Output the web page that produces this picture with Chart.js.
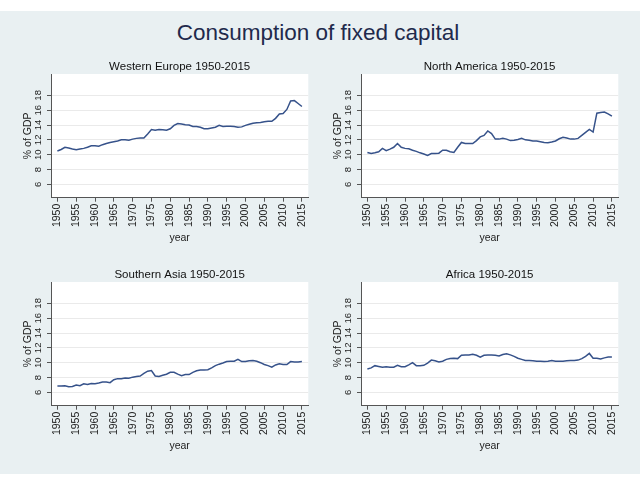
<!DOCTYPE html>
<html>
<head>
<meta charset="utf-8">
<script src="https://cdn.jsdelivr.net/npm/chart.js@4.4.1/dist/chart.umd.min.js"></script>
<style>
  html, body { margin: 0; padding: 0; background: #ffffff; }
  #page { position: relative; width: 640px; height: 477px; overflow: hidden; background: #ffffff; }
  #bg { position: absolute; left: 0; top: 11px; width: 640px; height: 463px; background: #e9f0f2; }
  #title { position: absolute; left: 0; top: 20px; width: 636px; text-align: center;
           font-family: "Liberation Sans", Arial, sans-serif; font-size: 22.5px; line-height: 26px; color: #1f2a4c; }
  canvas { position: absolute; }
</style>
</head>
<body>
<div id="page">
  <div id="bg"></div>
  <div id="title">Consumption of fixed capital</div>
  <canvas id="c-we" width="320" height="200" style="left:0px;top:54px"></canvas>
  <canvas id="c-na" width="320" height="200" style="left:310px;top:54px"></canvas>
  <canvas id="c-sa" width="320" height="200" style="left:0px;top:262px"></canvas>
  <canvas id="c-af" width="320" height="200" style="left:310px;top:262px"></canvas>
</div>
<script>
const YEARS = [1950, 1951, 1952, 1953, 1954, 1955, 1956, 1957, 1958, 1959,
    1960, 1961, 1962, 1963, 1964, 1965, 1966, 1967, 1968, 1969,
    1970, 1971, 1972, 1973, 1974, 1975, 1976, 1977, 1978, 1979,
    1980, 1981, 1982, 1983, 1984, 1985, 1986, 1987, 1988, 1989,
    1990, 1991, 1992, 1993, 1994, 1995, 1996, 1997, 1998, 1999,
    2000, 2001, 2002, 2003, 2004, 2005, 2006, 2007, 2008, 2009,
    2010, 2011, 2012, 2013, 2014, 2015];

const WESTERN_EUROPE = [10.5, 10.7, 11.0, 10.9, 10.76, 10.67, 10.76, 10.85, 11.0, 11.2,
    11.2, 11.15, 11.35, 11.5, 11.65, 11.75, 11.85, 12.0, 12.0, 11.95,
    12.1, 12.2, 12.25, 12.25, 12.8, 13.4, 13.3, 13.4, 13.35, 13.3,
    13.5, 13.95, 14.2, 14.15, 14.05, 14.0, 13.8, 13.8, 13.7, 13.5,
    13.5, 13.6, 13.7, 13.95, 13.8, 13.85, 13.85, 13.8, 13.7, 13.75,
    13.95, 14.1, 14.25, 14.3, 14.35, 14.45, 14.5, 14.5, 14.9, 15.5,
    15.55, 16.1, 17.25, 17.3, 16.9, 16.5];

const NORTH_AMERICA = [10.3, 10.15, 10.25, 10.4, 10.85, 10.55, 10.75, 11.0, 11.5, 11.0,
    10.85, 10.8, 10.6, 10.45, 10.25, 10.1, 9.9, 10.15, 10.15, 10.2,
    10.6, 10.6, 10.4, 10.3, 11.0, 11.65, 11.5, 11.5, 11.5, 11.9,
    12.4, 12.6, 13.2, 12.85, 12.1, 12.1, 12.2, 12.1, 11.9, 11.95,
    12.05, 12.2, 12.0, 11.95, 11.85, 11.85, 11.75, 11.65, 11.6, 11.7,
    11.85, 12.15, 12.35, 12.25, 12.1, 12.1, 12.2, 12.6, 13.0, 13.4,
    13.05, 15.6, 15.7, 15.75, 15.5, 15.2];

const SOUTHERN_ASIA = [6.85, 6.85, 6.9, 6.75, 6.8, 7.0, 6.9, 7.15, 7.05, 7.2,
    7.15, 7.25, 7.4, 7.4, 7.3, 7.7, 7.85, 7.85, 7.95, 7.9,
    8.05, 8.15, 8.2, 8.55, 8.85, 8.95, 8.2, 8.15, 8.3, 8.45,
    8.7, 8.7, 8.45, 8.25, 8.4, 8.4, 8.7, 8.9, 9.0, 9.0,
    9.05, 9.3, 9.6, 9.8, 9.95, 10.15, 10.2, 10.2, 10.45, 10.15,
    10.15, 10.25, 10.3, 10.2, 10.0, 9.75, 9.6, 9.4, 9.7, 9.85,
    9.75, 9.75, 10.15, 10.1, 10.1, 10.15];

const AFRICA = [9.15, 9.3, 9.6, 9.5, 9.4, 9.45, 9.4, 9.4, 9.65, 9.45,
    9.45, 9.7, 10.0, 9.6, 9.6, 9.65, 9.95, 10.35, 10.25, 10.1,
    10.2, 10.45, 10.55, 10.6, 10.55, 11.0, 11.05, 11.05, 11.15, 11.0,
    10.75, 11.0, 11.05, 11.05, 11.0, 10.9, 11.1, 11.2, 11.05, 10.85,
    10.6, 10.45, 10.3, 10.3, 10.25, 10.2, 10.2, 10.15, 10.2, 10.3,
    10.2, 10.2, 10.2, 10.25, 10.3, 10.3, 10.35, 10.55, 10.85, 11.25,
    10.6, 10.6, 10.5, 10.65, 10.75, 10.75];

const X_TICKS = [1950, 1955, 1960, 1965, 1970, 1975, 1980, 1985, 1990, 1995, 2000, 2005, 2010, 2015];
const Y_TICKS = [6, 8, 10, 12, 14, 16, 18];

const FONT = '"Liberation Sans", Arial, Helvetica, sans-serif';
const LINE_COLOR = '#36528a';
const AXIS_COLOR = '#555555';
const GRID_COLOR = '#eaeaea';
const TEXT_COLOR = '#222222';

// white plot region like stata's plotregion
const plotBg = {
    id: 'plotBg',
    beforeDraw(chart) {
        const {ctx, chartArea: a} = chart;
        ctx.save();
        ctx.fillStyle = '#ffffff';
        ctx.fillRect(a.left, a.top, a.right - a.left, a.bottom - a.top);
        ctx.restore();
    }
};

// y tick labels are vertical in the reference; chart.js can't rotate them on a y axis
const yLabels = {
    id: 'yLabels',
    afterDraw(chart) {
        const {ctx, chartArea, scales: {y}} = chart;
        ctx.save();
        ctx.font = '9.5px ' + FONT;
        ctx.fillStyle = TEXT_COLOR;
        ctx.textAlign = 'center';
        ctx.textBaseline = 'middle';
        Y_TICKS.forEach(v => {
            ctx.save();
            ctx.translate(chartArea.left - 12.5, y.getPixelForValue(v));
            ctx.rotate(-Math.PI / 2);
            ctx.fillText(String(v), 0, 0);
            ctx.restore();
        });
        ctx.restore();
    }
};

function makeChart(id, subtitle, values) {
    const points = YEARS.map((yr, i) => ({ x: yr, y: values[i] }));
    return new Chart(document.getElementById(id), {
        type: 'line',
        data: {
            datasets: [{
                data: points, borderColor: LINE_COLOR, borderWidth: 1.5,
                pointRadius: 0, fill: false, tension: 0
            }]
        },
        options: {
            responsive: false, animation: false, devicePixelRatio: 1,
            layout: { padding: { left: 0, right: 11.7, top: 0, bottom: 0 } },
            plugins: {
                legend: { display: false },
                tooltip: { enabled: false },
                title: {
                    display: true, text: subtitle, fullSize: false, color: '#111111',
                    font: { family: FONT, size: 11.5, weight: 'normal', lineHeight: '14px' },
                    padding: { top: 6, bottom: 0 }
                }
            },
            scales: {
                x: {
                    type: 'linear', min: 1948.3, max: 2016.7,
                    afterBuildTicks: s => { s.ticks = X_TICKS.map(v => ({ value: v })); },
                    afterFit: s => { s.height = 56.3; },
                    grid: { drawOnChartArea: false, drawTicks: true, tickLength: 4, tickColor: AXIS_COLOR },
                    border: { display: true, color: AXIS_COLOR, width: 1 },
                    ticks: {
                        autoSkip: false, minRotation: 90, maxRotation: 90, padding: 2,
                        color: TEXT_COLOR, font: { family: FONT, size: 10.5 },
                        callback: v => String(v)
                    },
                    title: {
                        display: true, text: 'year', color: TEXT_COLOR,
                        font: { family: FONT, size: 10.5, lineHeight: '13px' },
                        padding: { top: 0, bottom: 9.8 }
                    }
                },
                y: {
                    min: 4.2, max: 20.88,
                    afterBuildTicks: s => { s.ticks = Y_TICKS.map(v => ({ value: v })); },
                    afterFit: s => { s.width = 51; },
                    grid: { color: GRID_COLOR, lineWidth: 1, drawTicks: true, tickLength: 4, tickColor: AXIS_COLOR },
                    border: { display: true, color: AXIS_COLOR, width: 1 },
                    ticks: { display: false },
                    title: {
                        display: true, text: '% of GDP', color: TEXT_COLOR,
                        font: { family: FONT, size: 10.5, lineHeight: '13px' },
                        padding: { top: 21.8, bottom: 0 }
                    }
                }
            }
        },
        plugins: [plotBg, yLabels]
    });
}

makeChart('c-we', 'Western Europe 1950-2015', WESTERN_EUROPE);
makeChart('c-na', 'North America 1950-2015', NORTH_AMERICA);
makeChart('c-sa', 'Southern Asia 1950-2015', SOUTHERN_ASIA);
makeChart('c-af', 'Africa 1950-2015', AFRICA);
</script>
</body>
</html>
